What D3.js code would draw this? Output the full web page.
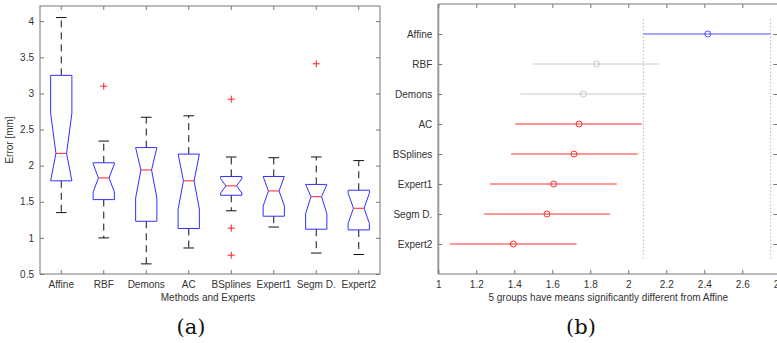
<!DOCTYPE html>
<html>
<head>
<meta charset="utf-8">
<script src="https://cdn.jsdelivr.net/npm/d3@7"></script>
<style>
  html, body { margin: 0; padding: 0; background: #fff; }
  svg { display: block; font-family: "Liberation Sans", Arial, sans-serif; }
</style>
</head>
<body>
<div id="chart"></div>
<script>
// categories
const methods = ['Affine', 'RBF', 'Demons', 'AC', 'BSplines', 'Expert1', 'Segm D.', 'Expert2'];

// (a) box plot stats [mm]
const whiskerHi = [4.05, 2.34, 2.67, 2.69, 2.12, 2.11, 2.12, 2.07];
const q3 = [3.25, 2.04, 2.25, 2.16, 1.85, 1.85, 1.74, 1.66];
const medians = [2.17, 1.83, 1.94, 1.79, 1.72, 1.65, 1.57, 1.41];
const q1 = [1.79, 1.53, 1.23, 1.13, 1.59, 1.30, 1.12, 1.11];
const whiskerLo = [1.35, 1.00, 0.64, 0.86, 1.375, 1.15, 0.79, 0.77];
const outliers = [[], [3.10], [], [], [2.92, 1.135, 0.76], [], [3.41], []];
const nSamples = 17;
const yTicksA = [0.5, 1, 1.5, 2, 2.5, 3, 3.5, 4];

// (b) multiple comparison intervals
const meanVals = [2.418, 1.832, 1.763, 1.741, 1.714, 1.607, 1.572, 1.395];
const lowerVals = [2.079, 1.495, 1.432, 1.405, 1.383, 1.272, 1.241, 1.062];
const upperVals = [2.749, 2.163, 2.098, 2.072, 2.049, 1.939, 1.904, 1.728];
const groupStatus = ['ref', 'ns', 'ns', 'sig', 'sig', 'sig', 'sig', 'sig'];
const xTicksB = [1, 1.2, 1.4, 1.6, 1.8, 2, 2.2, 2.4, 2.6, 2.8];

const W = 777, H = 343;
const textCol = '#333';
const frameCol = '#777';

const svg = d3.select('#chart').append('svg')
  .attr('width', W)
  .attr('height', H);

// ---------- panel (a) ----------
const ax = { left: 40, right: 380, top: 6, bottom: 274 };

const xA = d3.scaleBand().domain(methods).range([ax.left, ax.right]).padding(0);
const yA = d3.scaleLinear().domain([0.5, 4.21]).range([ax.bottom, ax.top]);
const cx = m => xA(m) + xA.bandwidth() / 2;
const boxW = xA.bandwidth() * 0.5;
const capW = xA.bandwidth() * 0.25;

const gA = svg.append('g');

// frame
gA.append('rect')
  .attr('x', ax.left).attr('y', ax.top)
  .attr('width', ax.right - ax.left).attr('height', ax.bottom - ax.top)
  .attr('fill', 'none').attr('stroke', frameCol).attr('stroke-width', 1);

// y axis left + mirrored ticks on right
gA.append('g')
  .attr('transform', `translate(${ax.left},0)`)
  .call(d3.axisLeft(yA).tickValues(yTicksA).tickSize(-4).tickPadding(6).tickFormat(d3.format('')))
  .call(g => g.select('.domain').remove());
gA.append('g')
  .attr('transform', `translate(${ax.right},0)`)
  .call(d3.axisRight(yA).tickValues(yTicksA).tickSize(-4).tickFormat(''))
  .call(g => g.select('.domain').remove());

// x axis bottom + mirrored ticks on top
gA.append('g')
  .attr('transform', `translate(0,${ax.bottom})`)
  .call(d3.axisBottom(xA).tickSize(-4).tickPadding(7))
  .call(g => g.select('.domain').remove());
gA.append('g')
  .attr('transform', `translate(0,${ax.top})`)
  .call(d3.axisTop(xA).tickSize(-4).tickFormat(''))
  .call(g => g.select('.domain').remove());

gA.selectAll('.tick line').attr('stroke', frameCol);
gA.selectAll('.tick text').attr('fill', textCol).attr('font-size', 10)
  .attr('font-family', '"Liberation Sans", Arial, sans-serif');

// axis titles
gA.append('text')
  .attr('transform', `translate(13,${(ax.top + ax.bottom) / 2}) rotate(-90)`)
  .attr('text-anchor', 'middle')
  .attr('font-size', 10).attr('fill', textCol)
  .text('Error [mm]');
gA.append('text')
  .attr('x', (ax.left + ax.right) / 2 - 2).attr('y', 301)
  .attr('text-anchor', 'middle')
  .attr('font-size', 10).attr('fill', textCol)
  .text('Methods and Experts');

// boxes
methods.forEach((m, i) => {
  const c = cx(m);
  const l = c - boxW / 2, r = c + boxW / 2;
  const inset = boxW / 4;
  const notch = 1.57 * (q3[i] - q1[i]) / Math.sqrt(nSamples);
  const nHi = medians[i] + notch, nLo = medians[i] - notch;

  // upper part: from median up to q3
  const hiY = Math.min(nHi, q3[i]);
  const hiIn = nHi > q3[i] ? inset * (nHi - q3[i]) / notch : 0;
  const loY = Math.max(nLo, q1[i]);
  const loIn = nLo < q1[i] ? inset * (q1[i] - nLo) / notch : 0;

  const pts = [
    [l + loIn, yA(q1[i])],
    [l, yA(loY)],
    [l + inset, yA(medians[i])],
    [l, yA(hiY)],
    [l + hiIn, yA(q3[i])],
    [r - hiIn, yA(q3[i])],
    [r, yA(hiY)],
    [r - inset, yA(medians[i])],
    [r, yA(loY)],
    [r - loIn, yA(q1[i])]
  ];

  // whiskers
  gA.append('line')
    .attr('x1', c).attr('x2', c)
    .attr('y1', yA(q3[i])).attr('y2', yA(whiskerHi[i]))
    .attr('stroke', '#111').attr('stroke-dasharray', '7,5');
  gA.append('line')
    .attr('x1', c).attr('x2', c)
    .attr('y1', yA(q1[i])).attr('y2', yA(whiskerLo[i]))
    .attr('stroke', '#111').attr('stroke-dasharray', '7,5');
  [whiskerHi[i], whiskerLo[i]].forEach(v => {
    gA.append('line')
      .attr('x1', c - capW / 2).attr('x2', c + capW / 2)
      .attr('y1', yA(v)).attr('y2', yA(v))
      .attr('stroke', '#111');
  });

  gA.append('path')
    .attr('d', d3.line()(pts) + 'Z')
    .attr('fill', 'none').attr('stroke', '#3030ff').attr('stroke-width', 1);

  gA.append('line')
    .attr('x1', l + inset).attr('x2', r - inset)
    .attr('y1', yA(medians[i])).attr('y2', yA(medians[i]))
    .attr('stroke', '#ff2020');

  outliers[i].forEach(v => {
    const py = yA(v);
    gA.append('path')
      .attr('d', `M${c - 3.5},${py}H${c + 3.5}M${c},${py - 3.5}V${py + 3.5}`)
      .attr('stroke', '#ff2020').attr('fill', 'none');
  });
});

svg.append('text')
  .attr('x', 191).attr('y', 334)
  .attr('text-anchor', 'middle')
  .attr('font-family', '"DejaVu Serif", "Liberation Serif", serif')
  .attr('font-size', 21).attr('fill', '#111')
  .text('(a)');

// ---------- panel (b) ----------
const bx = { left: 438.3, right: 780.3, top: 4, bottom: 274 };
const xB = d3.scaleLinear().domain([1, 2.8]).range([bx.left, bx.right]);
const yB = d3.scaleLinear().domain([0, 9]).range([bx.top, bx.bottom]);
const rowY = i => yB(i + 1);

const gB = svg.append('g');

gB.append('line')
  .attr('x1', bx.left).attr('x2', bx.right)
  .attr('y1', bx.top).attr('y2', bx.top)
  .attr('stroke', frameCol);
gB.append('line')
  .attr('x1', bx.left).attr('x2', bx.right)
  .attr('y1', bx.bottom).attr('y2', bx.bottom)
  .attr('stroke', frameCol);
gB.append('line')
  .attr('x1', bx.left).attr('x2', bx.left)
  .attr('y1', bx.top).attr('y2', bx.bottom)
  .attr('stroke', '#999').attr('stroke-width', 2);
gB.append('line')
  .attr('x1', bx.right).attr('x2', bx.right)
  .attr('y1', bx.top).attr('y2', bx.bottom)
  .attr('stroke', frameCol);

gB.append('g')
  .attr('transform', `translate(0,${bx.bottom})`)
  .call(d3.axisBottom(xB).tickValues(xTicksB).tickSize(-4).tickPadding(7).tickFormat(d3.format('')))
  .call(g => g.select('.domain').remove());
gB.append('g')
  .attr('transform', `translate(0,${bx.top})`)
  .call(d3.axisTop(xB).tickValues(xTicksB).tickSize(-4).tickFormat(''))
  .call(g => g.select('.domain').remove());

const rowScale = d3.scalePoint().domain(methods).range([rowY(0), rowY(methods.length - 1)]);
gB.append('g')
  .attr('transform', `translate(${bx.left},0)`)
  .call(d3.axisLeft(rowScale).tickSize(-4).tickPadding(6))
  .call(g => g.select('.domain').remove());
gB.append('g')
  .attr('transform', `translate(${bx.right - 3},0)`)
  .call(d3.axisRight(rowScale).tickSize(-4).tickFormat(''))
  .call(g => g.select('.domain').remove());

gB.selectAll('.tick line').attr('stroke', frameCol);
gB.selectAll('.tick text').attr('fill', textCol).attr('font-size', 10)
  .attr('font-family', '"Liberation Sans", Arial, sans-serif');

// reference interval bounds
[lowerVals[0], upperVals[0]].forEach(v => {
  gB.append('line')
    .attr('x1', xB(v)).attr('x2', xB(v))
    .attr('y1', yB(0.5)).attr('y2', yB(8.5))
    .attr('stroke', '#bbb').attr('stroke-dasharray', '1.5,2');
});

const statusCol = { ref: '#5050ff', ns: '#c8c8c8', sig: '#ff3030' };
methods.forEach((m, i) => {
  const col = statusCol[groupStatus[i]];
  const yy = rowY(i);
  gB.append('line')
    .attr('x1', xB(lowerVals[i])).attr('x2', xB(upperVals[i]))
    .attr('y1', yy).attr('y2', yy)
    .attr('stroke', col);
  gB.append('circle')
    .attr('cx', xB(meanVals[i])).attr('cy', yy).attr('r', 3)
    .attr('fill', 'none').attr('stroke', col);
});

gB.append('text')
  .attr('x', (bx.left + bx.right) / 2 - 1).attr('y', 301)
  .attr('text-anchor', 'middle')
  .attr('font-size', 10).attr('fill', textCol)
  .text('5 groups have means significantly different from Affine');

svg.append('text')
  .attr('x', 581).attr('y', 334)
  .attr('text-anchor', 'middle')
  .attr('font-family', '"DejaVu Serif", "Liberation Serif", serif')
  .attr('font-size', 21).attr('fill', '#111')
  .text('(b)');
</script>
</body>
</html>
